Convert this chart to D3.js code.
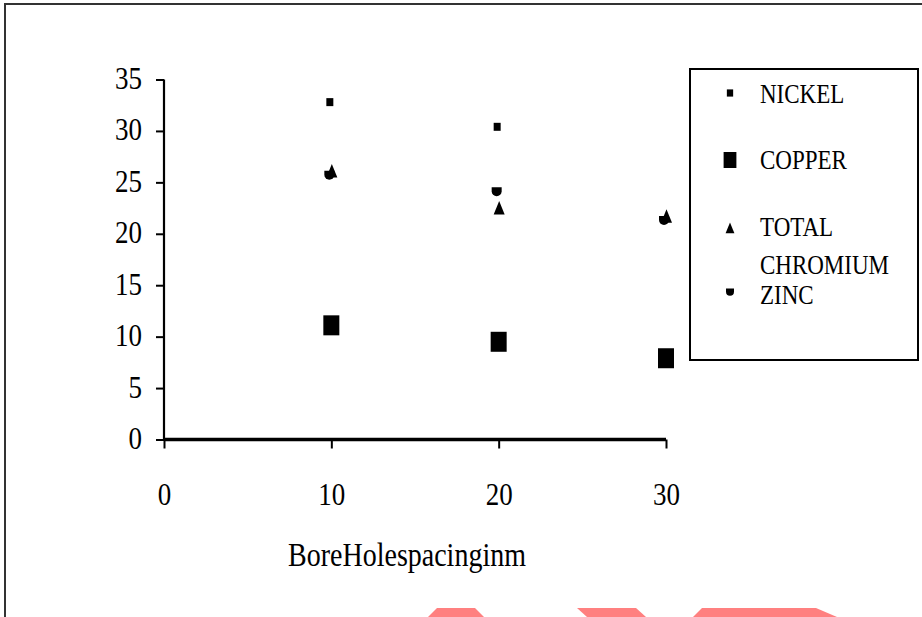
<!DOCTYPE html>
<html>
<head>
<meta charset="utf-8">
<script src="https://cdn.jsdelivr.net/npm/d3@7"></script>
<style>
  html, body { margin: 0; padding: 0; background: #fff; }
  svg { display: block; }
  text { font-family: "Liberation Serif", "Times New Roman", serif; fill: #000; }
</style>
</head>
<body>
<svg id="chart" width="922" height="617"></svg>
<script>
// ---- data ----
const xTicks = [0, 10, 20, 30];
const yTicks = [0, 5, 10, 15, 20, 25, 30, 35];
const spacing = [10, 20, 30];
const nickel = [32.8, 30.4, null];
const copper = [11.1, 9.5, 7.9];
const totalChromium = [26.1, 22.5, 21.7];
const zinc = [25.6, 24.0, 21.2];
const seriesNames = ["NICKEL", "COPPER", "TOTAL CHROMIUM", "ZINC"];
const xTitle = "BoreHolespacinginm";

// ---- layout ----
const svg = d3.select("#chart");
const W = 922, H = 617;
const plot = { left: 164, right: 666, top: 79.5, bottom: 439.5 };
const x = d3.scaleLinear().domain([0, 30]).range([plot.left, plot.right]);
const y = d3.scaleLinear().domain([0, 35]).range([plot.bottom, plot.top]);
const SY = 1.18; // vertical stretch of glyphs as in the reference

// outer frame
svg.append("path")
  .attr("d", `M5,${H} L5,4 L${W},4`)
  .attr("fill", "none").attr("stroke", "#333").attr("stroke-width", 2);

// decorative watermark shapes (bottom)
const wm = [
  [[428,617],[437,608],[475,608],[484,617]],
  [[577,608],[636,608],[646,617],[587,617]],
  [[693,617],[702,608],[816,608],[837,617]]
];
svg.append("g").selectAll("path").data(wm).join("path")
  .attr("d", d => "M" + d.join("L") + "Z")
  .attr("fill", "#ff8080");

// ---- y axis ----
const gy = svg.append("g").attr("transform", `translate(${plot.left},0)`)
  .call(d3.axisLeft(y).tickValues(yTicks).tickSize(8).tickPadding(14).tickFormat(d3.format("d")));
gy.select(".domain").attr("stroke", "#000").attr("stroke-width", 2.2)
  .attr("d", `M0,${plot.top}V${plot.bottom}`);
gy.selectAll(".tick line").attr("stroke", "#000").attr("stroke-width", 2);
gy.selectAll(".tick text")
  .attr("font-size", 27).attr("font-family", "Liberation Serif")
  .attr("dy", "0.28em")
  .attr("transform", `scale(1,${SY})`);

// ---- x axis ----
const gx = svg.append("g").attr("transform", `translate(0,${plot.bottom})`)
  .call(d3.axisBottom(x).tickValues(xTicks).tickSize(9).tickPadding(0).tickFormat(d3.format("d")));
gx.select(".domain").attr("stroke", "#000").attr("stroke-width", 3.5)
  .attr("d", `M${plot.left},0H${plot.right}`);
gx.selectAll(".tick line").attr("stroke", "#000").attr("stroke-width", 2);
gx.selectAll(".tick text")
  .attr("font-size", 27).attr("font-family", "Liberation Serif")
  .attr("y", 55 / SY).attr("dy", "0.33em")
  .attr("transform", `scale(1,${SY})`);

// x title
svg.append("text")
  .attr("transform", `translate(${(x(0) + x(30)) / 2 - 8},${555}) scale(1,${SY})`)
  .attr("text-anchor", "middle").attr("dy", "0.33em")
  .attr("font-size", 28)
  .text(xTitle);

// ---- marker shapes ----
const shapes = {
  nickel: () => "M-3.5,-4h7v8h-7Z",
  copper: () => "M-8,-10h16v20h-16Z",
  tri: () => "M0,-7L5.5,6.5L-5.5,6.5Z",
  zinc: () => "M-5,-5.5h10v4a5,5 0 0 1 -10,0Z"
};

const series = [
  { key: "nickel", values: nickel, dx: -1.5 },
  { key: "copper", values: copper, dx: 0 },
  { key: "tri", values: totalChromium, dx: 0.5 },
  { key: "zinc", values: zinc, dx: -2 }
];

const pts = svg.append("g");
series.forEach(s => {
  const data = spacing.map((sp, i) => ({ x: sp, v: s.values[i] })).filter(d => d.v != null);
  pts.selectAll(null).data(data).join("path")
    .attr("transform", d => `translate(${x(d.x) + s.dx},${y(d.v)})`)
    .attr("d", shapes[s.key]())
    .attr("fill", "#000");
});

// ---- legend ----
const lg = svg.append("g");
lg.append("rect").attr("x", 690).attr("y", 69).attr("width", 228).attr("height", 291)
  .attr("fill", "#fff").attr("stroke", "#000").attr("stroke-width", 2);
const legendRows = [
  { key: "nickel", y: 93, scale: 0.9 },
  { key: "copper", y: 160, scale: 0.8 },
  { key: "tri", y: 228, scale: 0.8 },
  { key: "zinc", y: 293, scale: 0.8 }
];
legendRows.forEach(r => {
  lg.append("path")
    .attr("transform", `translate(730,${r.y}) scale(${r.scale})`)
    .attr("d", shapes[r.key]()).attr("fill", "#000");
});
// legend labels
const labelPos = [
  { t: "NICKEL", y: 93 },
  { t: "COPPER", y: 159 },
  { t: "TOTAL", y: 226 },
  { t: "CHROMIUM", y: 264 },
  { t: "ZINC", y: 294 }
];
lg.selectAll("text.lab").data(labelPos).join("text")
  .attr("class", "lab")
  .attr("transform", d => `translate(760,${d.y}) scale(1,${SY + 0.05})`)
  .attr("dy", "0.35em")
  .attr("font-size", 23)
  .text(d => d.t);
</script>
</body>
</html>
